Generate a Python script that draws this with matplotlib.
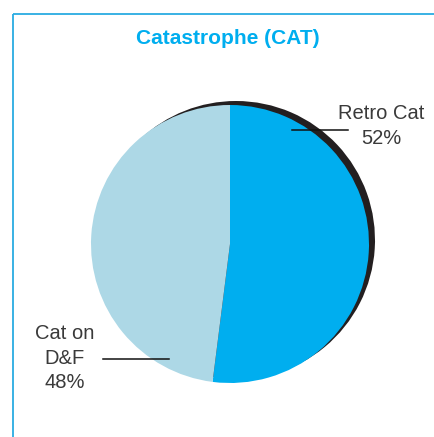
import matplotlib
matplotlib.use("Agg")
import matplotlib.pyplot as plt

# data
labels = ["Retro Cat", "Cat on\nD&F"]
shares = [52, 48]
colors = ["#00aeef", "#add8e6"]
title = "Catastrophe (CAT)"

plt.rcParams['font.family'] = ['Liberation Sans', 'DejaVu Sans']

W, H = 434, 437
fig = plt.figure(figsize=(W / 100, H / 100), dpi=100)
ax = fig.add_axes([0, 0, 1, 1])

# pixel-ish coordinates, y measured upward
cx, cy, r = 230, H - 244, 139

# dark shadow pie, shifted up and right
ax.pie(shares, colors=["#231f20"] * 2, startangle=90, counterclock=False,
       center=(cx + 6, cy + 4), radius=r,
       wedgeprops=dict(edgecolor="none", linewidth=0))
wedges, _ = ax.pie(shares, colors=colors, startangle=90, counterclock=False,
                   center=(cx, cy), radius=r,
                   wedgeprops=dict(edgecolor="none", linewidth=0))

ax.set_xlim(0, W)
ax.set_ylim(0, H)
ax.set_aspect('equal')
ax.axis('off')

# frame lines (left and top)
ax.plot([13, 13], [0, H - 14], color="#29abe2", lw=1.3, solid_capstyle='butt')
ax.plot([13, W], [H - 14, H - 14], color="#29abe2", lw=1.3, solid_capstyle='butt')

ax.text(228, H - 39, title, ha='center', va='center', fontsize=15,
        fontweight='bold', color="#00aeef")

# labels and leader lines
ax.text(381, H - 126, f"{labels[0]}\n{shares[0]}%", ha='center', va='center',
        fontsize=14.5, color="#3a3a3a", linespacing=1.38)
ax.plot([292, 348], [H - 129.5, H - 129.5], color="#111111", lw=1.1)

ax.text(65, H - 358, f"{labels[1]}\n{shares[1]}%", ha='center', va='center',
        fontsize=14.5, color="#3a3a3a", linespacing=1.38)
ax.plot([103, 169], [H - 359, H - 359], color="#111111", lw=1.1)

fig.savefig("out.png", dpi=100)
